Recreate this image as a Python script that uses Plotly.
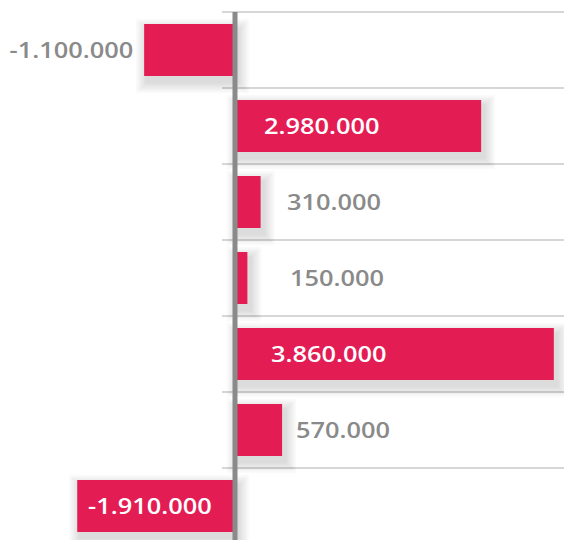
import plotly.graph_objects as go

# ---- data ----
rows = [0, 1, 2, 3, 4, 5, 6]
values = [-1100000, 2980000, 310000, 150000, 3860000, 570000, -1910000]
value_labels = [f"{v:,}".replace(",", ".") for v in values]

# ---- style ----
BAR_COLOR = "#E31C54"
GREY_TEXT = "#8a8a8a"
AXIS_GREY = "#8a8a8a"
GRID_GREY = "#c9c9c9"
FONT = "Open Sans"
BAR_W = 0.684            # in row units
PX_X = 1e6 / 82.6        # data units per pixel (x)
PX_Y = 1 / 76.0          # row units per pixel (y)
INSIDE_LIMIT = 1500000
LABEL_SHIFT = [-9, 27, 24, 41, 34, 12, 9]   # px offsets of the value labels

fig = go.Figure()

# soft drop shadows (stacked translucent layers)
for k in range(1, 8):
    spread = 1.6 * k
    fig.add_trace(go.Bar(
        y=[r + 6 * PX_Y for r in rows],
        x=[abs(v) + 2 * spread * PX_X for v in values],
        base=[min(v, 0) - spread * PX_X + 3 * PX_X for v in values],
        orientation="h",
        width=BAR_W + 2 * spread * PX_Y,
        marker=dict(color="rgba(0,0,0,0.02)", line=dict(width=0)),
        hoverinfo="skip", showlegend=False,
    ))

fig.add_trace(go.Bar(
    y=rows, x=values, orientation="h", width=BAR_W,
    marker=dict(color=BAR_COLOR, line=dict(width=0)),
    showlegend=False,
))

# gridlines between rows
shapes = []
for r in rows:
    shapes.append(dict(type="line", xref="paper", x0=222 / 564, x1=1,
                       yref="y", y0=r - 0.5, y1=r - 0.5,
                       line=dict(color=GRID_GREY, width=1.5), layer="below"))
# zero axis
shapes.append(dict(type="line", xref="x", x0=0, x1=0, yref="y", y0=-0.5, y1=6.6,
                   line=dict(color=AXIS_GREY, width=5), layer="above"))

annotations = []
for r, v, t, s in zip(rows, values, value_labels, LABEL_SHIFT):
    inside = abs(v) > INSIDE_LIMIT
    if inside:
        x = 0 if v > 0 else v
        anchor, align, color = "left", "left", "white"
    else:
        x = v
        if v > 0:
            anchor, align = "left", "left"
        else:
            anchor, align = "right", "right"
        color = GREY_TEXT
    annotations.append(dict(x=x, y=r, xref="x", yref="y", text=t, showarrow=False,
                            xanchor=anchor, align=align, yanchor="middle", xshift=s,
                            font=dict(family=FONT, size=21, color=color, weight=600)))

fig.update_layout(
    width=564, height=540,
    margin=dict(l=0, r=0, t=0, b=0),
    paper_bgcolor="white", plot_bgcolor="white",
    barmode="overlay",
    xaxis=dict(range=[-235 * PX_X, 329 * PX_X], visible=False, fixedrange=True),
    yaxis=dict(range=[6 + 34 * PX_Y, -50 * PX_Y], visible=False, fixedrange=True),
    shapes=shapes, annotations=annotations,
    font=dict(family=FONT),
)

post = """
document.body.style.margin = '0';
document.body.style.overflow = 'hidden';
var gd = document.getElementById('{plot_id}');
function widen(){
  gd.querySelectorAll('.annotation-text').forEach(function(t){
    var a = t.getAttribute('text-anchor');
    t.style.transformBox = 'fill-box';
    t.style.transformOrigin = (a === 'end') ? 'right center' : (a === 'middle' ? 'center center' : 'left center');
    t.style.transform = 'scaleX(1.21)';
  });
}
widen(); if (gd.on) { gd.on('plotly_afterplot', widen); }
"""

fig.write_html("out.html", config={"displayModeBar": False}, post_script=post)
